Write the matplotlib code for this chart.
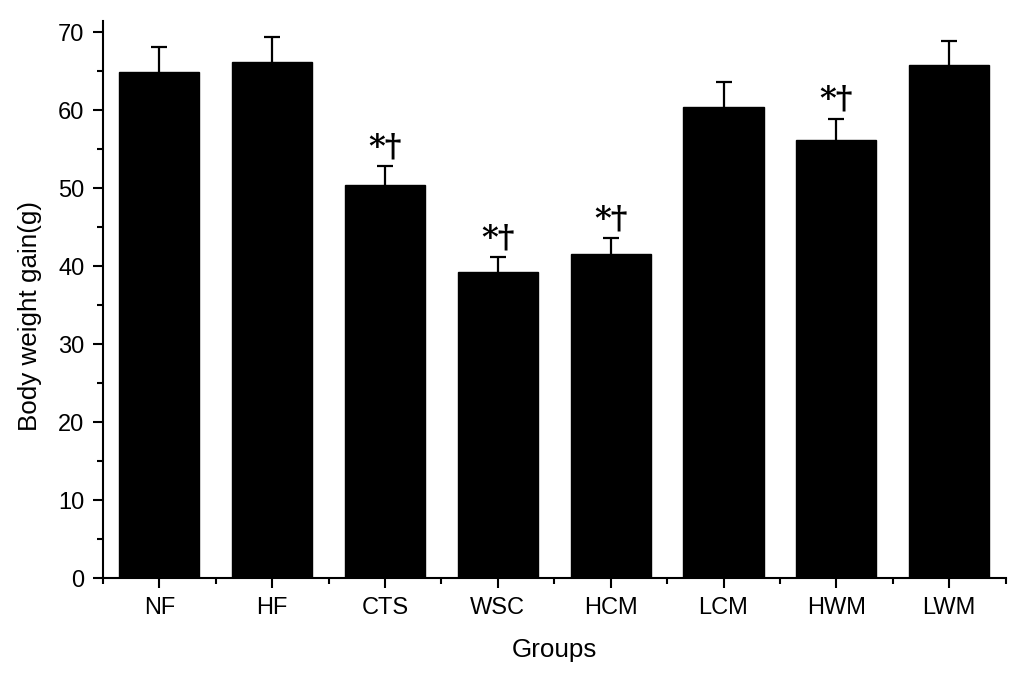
import numpy as np
import matplotlib.pyplot as plt
from matplotlib.ticker import MultipleLocator, FixedLocator

groups = ['NF', 'HF', 'CTS', 'WSC', 'HCM', 'LCM', 'HWM', 'LWM']
gain = [64.9, 66.15, 50.4, 39.2, 41.6, 60.4, 56.15, 65.8]
sd = [3.2, 3.25, 2.4, 1.95, 2.0, 3.15, 2.75, 3.1]
marks = ['', '', '*†', '*†', '*†', '', '*†', '']

plt.rcParams['font.family'] = ['Liberation Sans', 'DejaVu Sans']

fig = plt.figure(figsize=(10.24, 6.85), dpi=100)
ax = fig.add_axes([0.1006, 0.156, 0.8814, 0.813])

x = np.arange(1, len(groups) + 1)
ax.bar(x, gain, width=0.71, color='black', edgecolor='black', zorder=2)
_, caps, _ = ax.errorbar(x, gain, yerr=[np.zeros(len(sd)), sd], fmt='none', ecolor='black',
                         elinewidth=1.6, capsize=5.8, capthick=1.6, zorder=1)
# only the upper cap is wanted
for c in caps:
    if np.allclose(c.get_ydata(), gain):
        c.set_visible(False)

for xi, g, s, m in zip(x, gain, sd, marks):
    if m:
        ax.text(xi, g + s + 0.5, m, ha='center', va='bottom', fontsize=23,
                family=['DejaVu Serif'], fontweight='bold')

ax.set_xlim(0.5, 8.5)
ax.set_ylim(0, 71.4)
ax.set_xticks(x)
ax.set_xticklabels(groups)
ax.xaxis.set_minor_locator(FixedLocator(np.arange(0.5, 9, 1)))
ax.yaxis.set_minor_locator(MultipleLocator(5))
ax.set_yticks(np.arange(0, 71, 10))

for side in ['top', 'right']:
    ax.spines[side].set_visible(False)
for side in ['left', 'bottom']:
    ax.spines[side].set_linewidth(1.5)

ax.tick_params(which='major', direction='out', length=7.5, width=1.5, labelsize=17, pad=6)
ax.tick_params(which='minor', direction='out', length=4.3, width=1.5)

ax.set_xlabel('Groups', fontsize=18.7, labelpad=14)
ax.set_ylabel('Body weight gain(g)', fontsize=18.7, labelpad=9)
ax.yaxis.set_label_coords(-0.068, 0.47)

fig.savefig('out.png', dpi=100)
